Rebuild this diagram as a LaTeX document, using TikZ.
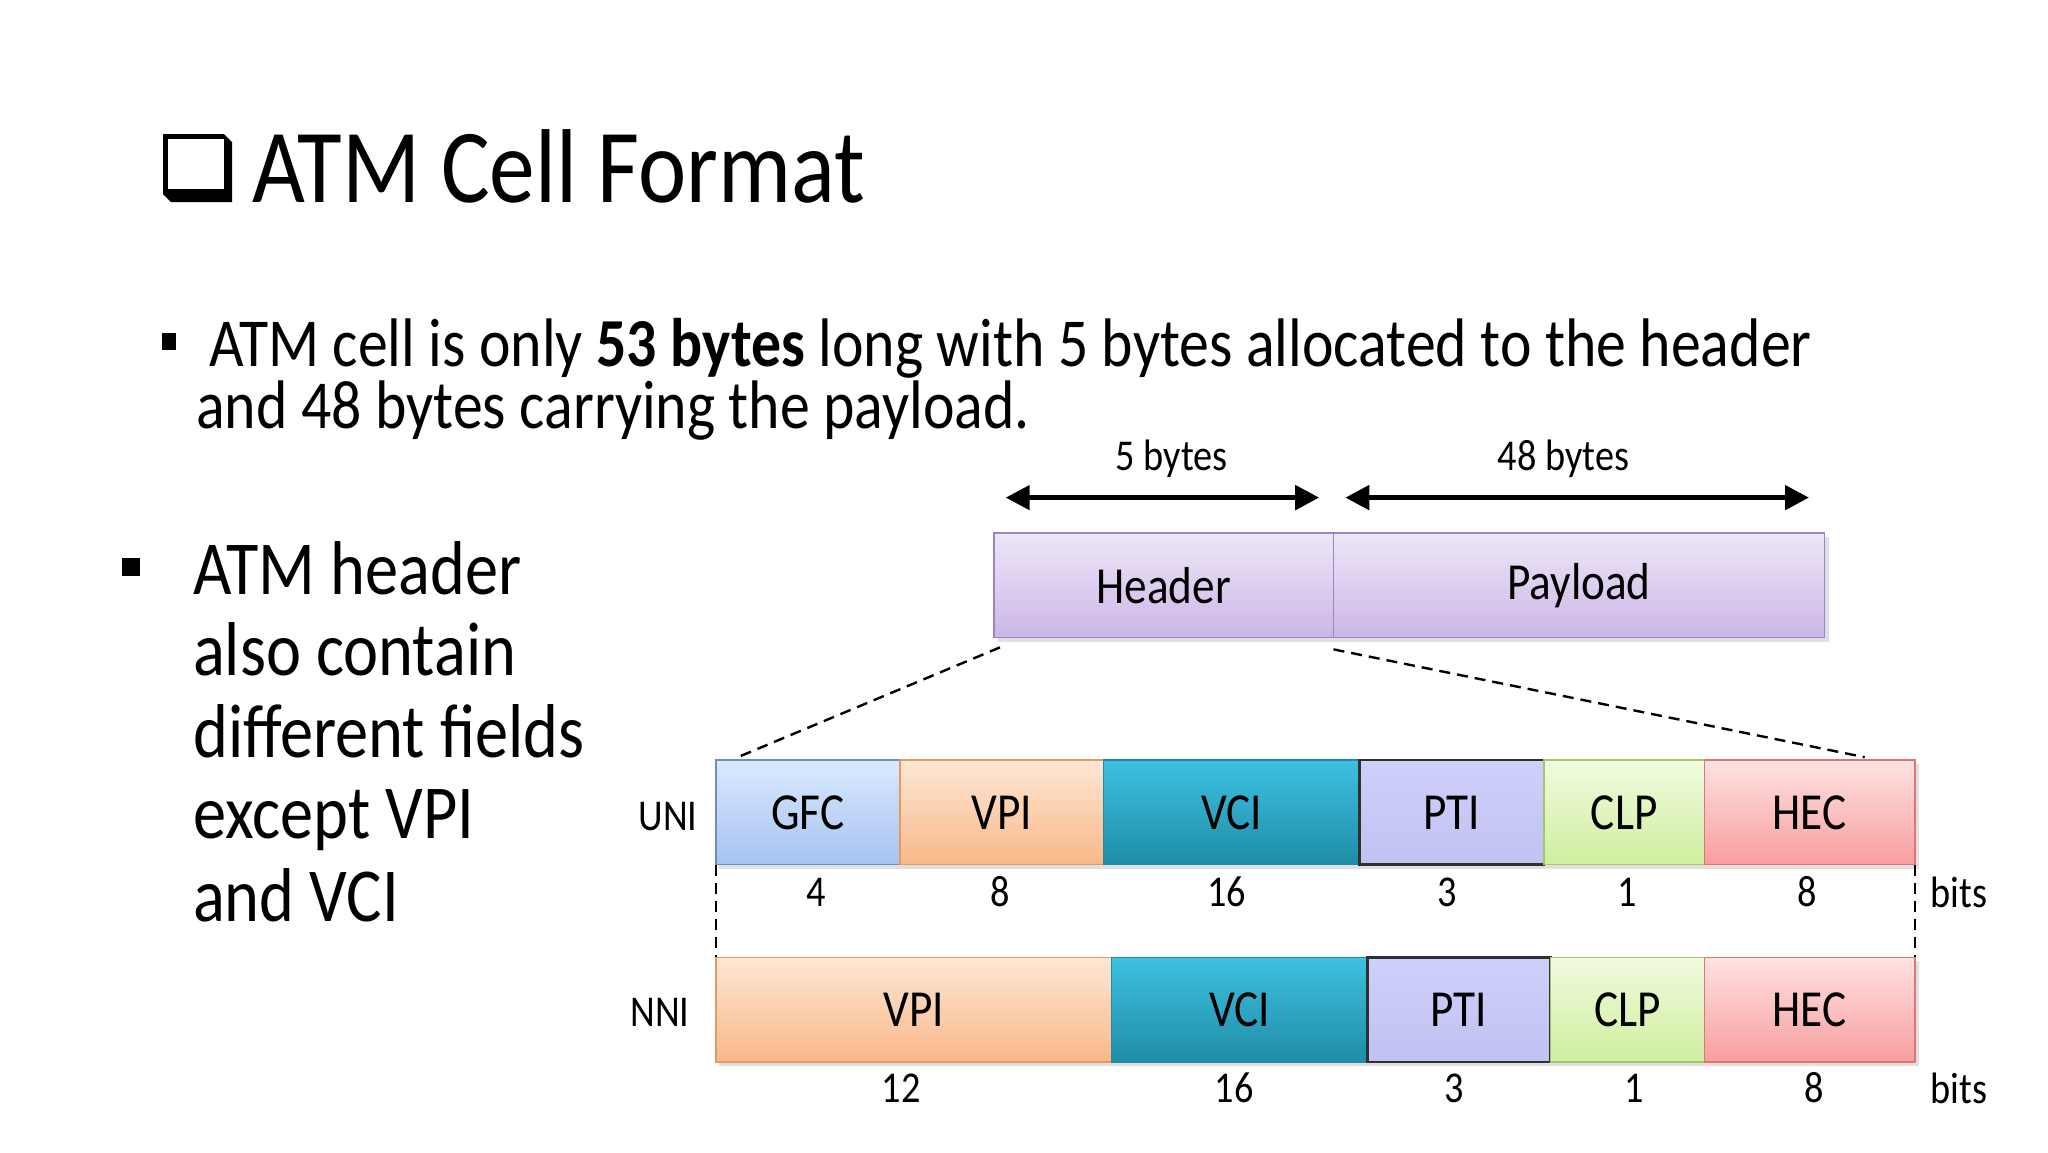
\documentclass[tikz,border=0pt]{standalone}
\usepackage{fontspec}
\setmainfont[FakeStretch=0.87]{Carlito}
\usetikzlibrary{arrows.meta}
\definecolor{hdrT}{HTML}{EEE6F8}\definecolor{hdrB}{HTML}{CBB6E6}\definecolor{hdrD}{HTML}{9A86C4}
\definecolor{gfcT}{HTML}{DAE9FD}\definecolor{gfcB}{HTML}{A6C3F0}\definecolor{gfcD}{HTML}{6E8DC2}
\definecolor{vpiT}{HTML}{FDE7D5}\definecolor{vpiB}{HTML}{F8B888}\definecolor{vpiD}{HTML}{E09A62}
\definecolor{vciT}{HTML}{3EC0E2}\definecolor{vciB}{HTML}{1F8DA6}
\definecolor{ptiT}{HTML}{CFCFFA}\definecolor{ptiB}{HTML}{C2C2F3}\definecolor{ptiD}{HTML}{303030}
\definecolor{clpT}{HTML}{F1FBDF}\definecolor{clpB}{HTML}{CFEE9E}\definecolor{clpD}{HTML}{A4C46E}
\definecolor{hecT}{HTML}{FFE2E2}\definecolor{hecB}{HTML}{F79E9E}\definecolor{hecD}{HTML}{E07474}
\begin{document}
\begin{tikzpicture}[x=1pt,y=-1pt,
  fld/.style={draw, line width=1.6pt, inner sep=0pt, outer sep=0pt, minimum height=104.4pt,
    font=\fontsize{52}{60}\selectfont, anchor=center},
  hdr/.style={fld, top color=hdrT, bottom color=hdrB, draw=hdrD},
  gfc/.style={fld, top color=gfcT, bottom color=gfcB, draw=gfcD},
  vpi/.style={fld, top color=vpiT, bottom color=vpiB, draw=vpiD},
  vci/.style={fld, top color=vciT, bottom color=vciB, draw=vciB},
  pti/.style={fld, top color=ptiT, bottom color=ptiB, draw=ptiD, line width=2.4pt},
  clp/.style={fld, top color=clpT, bottom color=clpB, draw=clpD},
  hec/.style={fld, top color=hecT, bottom color=hecB, draw=hecD},
  small/.style={font=\fontsize{44}{50}\selectfont, inner sep=0pt},
  slide/.style={anchor=base west, inner sep=0pt},
  dim/.style={line width=5pt, {Triangle[length=24pt,width=24pt]}-{Triangle[length=24pt,width=24pt]}},
  guide/.style={dashed, line width=2.4pt, dash pattern=on 11pt off 7pt},
  shadowbox/.style={fill=black, opacity=0.12}
]
\useasboundingbox (0,0) rectangle (2048,1152);
% title
\fill[black] (163,134) -- (224,134) -- (232,142) -- (232,202) -- (171,202) -- (163,194) -- cycle;
\fill[white] (168,139) rectangle (224,189);
\node[slide, font=\fontsize{105}{120}\selectfont] (title) at (252,202) {ATM Cell Format};
% bullet 1
\fill (162,333) rectangle (176,350);
\node[slide, font=\fontsize{68.7}{80}\selectfont] (b1a) at (209,366) {ATM cell is only \textbf{53 bytes} long with 5 bytes allocated to the header};
\node[slide, font=\fontsize{68.7}{80}\selectfont] (b1b) at (196,428) {and 48 bytes carrying the payload.};
% bullet 2
\fill (122,558) rectangle (140,576);
\node[slide, font=\fontsize{76.3}{82}\selectfont] (b2a) at (193,594) {ATM header};
\node[slide, font=\fontsize{76.3}{82}\selectfont] (b2b) at (193,675) {also contain};
\node[slide, font=\fontsize{76.3}{82}\selectfont] (b2c) at (193,757) {different fields};
\node[slide, font=\fontsize{76.3}{82}\selectfont] (b2d) at (193,838) {except VPI};
\node[slide, font=\fontsize{76.3}{82}\selectfont] (b2e) at (193,921) {and VCI};
% shadows
\fill[shadowbox] (998,537) rectangle (1829,642);
\fill[shadowbox] (719,764) rectangle (1919,869);
\fill[shadowbox] (719,961) rectangle (1919,1066);
% header / payload
\node[hdr, minimum width=339.5pt] (hdr) at (1163.75,585.15) {Header};
\node[hdr, minimum width=491.1pt] (pay) at (1579.05,585.15) {Payload};
% byte arrows
\coordinate (a1l) at (1005.7,497.6); \coordinate (a1r) at (1319.2,497.6);
\coordinate (a2l) at (1345.3,497.6); \coordinate (a2r) at (1809,497.6);
\draw[dim] (a1l) -- (a1r);
\draw[dim] (a2l) -- (a2r);
\node[small] (l5) at (1171.6,458.4) {5 bytes};
\node[small] (l48) at (1563.4,458.4) {48 bytes};
% UNI row
\node[gfc, minimum width=184.2pt] (uGFC) at (807.8,812.4) {GFC};
\node[vpi, minimum width=203.7pt] (uVPI) at (1001.75,812.4) {VPI};
\node[vci, minimum width=256pt] (uVCI) at (1231.6,812.4) {VCI};
\node[pti, minimum width=184.2pt] (uPTI) at (1451.7,812.4) {PTI};
\node[clp, minimum width=160.7pt] (uCLP) at (1624.15,812.4) {CLP};
\node[hec, minimum width=210.2pt] (uHEC) at (1809.6,812.4) {HEC};
\node[small] (uni) at (668,817) {UNI};
\node[small] at (816.3,892) {4};
\node[small] at (1000.5,892) {8};
\node[small] at (1226.4,892) {16};
\node[small] at (1447.2,892) {3};
\node[small] at (1627.4,892) {1};
\node[small] at (1807.6,892) {8};
\node[small] (ubits) at (1959,892) {bits};
% NNI row
\node[vpi, minimum width=395.8pt] (nVPI) at (913.6,1009.65) {VPI};
\node[vci, minimum width=256pt] (nVCI) at (1239.5,1009.65) {VCI};
\node[pti, minimum width=182.8pt] (nPTI) at (1458.9,1009.65) {PTI};
\node[clp, minimum width=154.2pt] (nCLP) at (1627.4,1009.65) {CLP};
\node[hec, minimum width=210.2pt] (nHEC) at (1809.6,1009.65) {HEC};
\node[small] (nni) at (660,1012) {NNI};
\node[small] at (901.2,1088) {12};
\node[small] at (1234.3,1088) {16};
\node[small] at (1453.7,1088) {3};
\node[small] at (1634,1088) {1};
\node[small] at (1814.2,1088) {8};
\node[small] (nbits) at (1959,1088) {bits};
% guides
\draw[guide] ([shift={(6,10)}]hdr.south west) -- ([shift={(22,-3)}]uGFC.north west);
\draw[guide] ([shift={(0,12)}]hdr.south east) -- ([shift={(-50,-3)}]uHEC.north east);
\draw[guide] (uGFC.south west) -- (nVPI.north west);
\draw[guide] (uHEC.south east) -- (nHEC.north east);
\end{tikzpicture}
\end{document}
